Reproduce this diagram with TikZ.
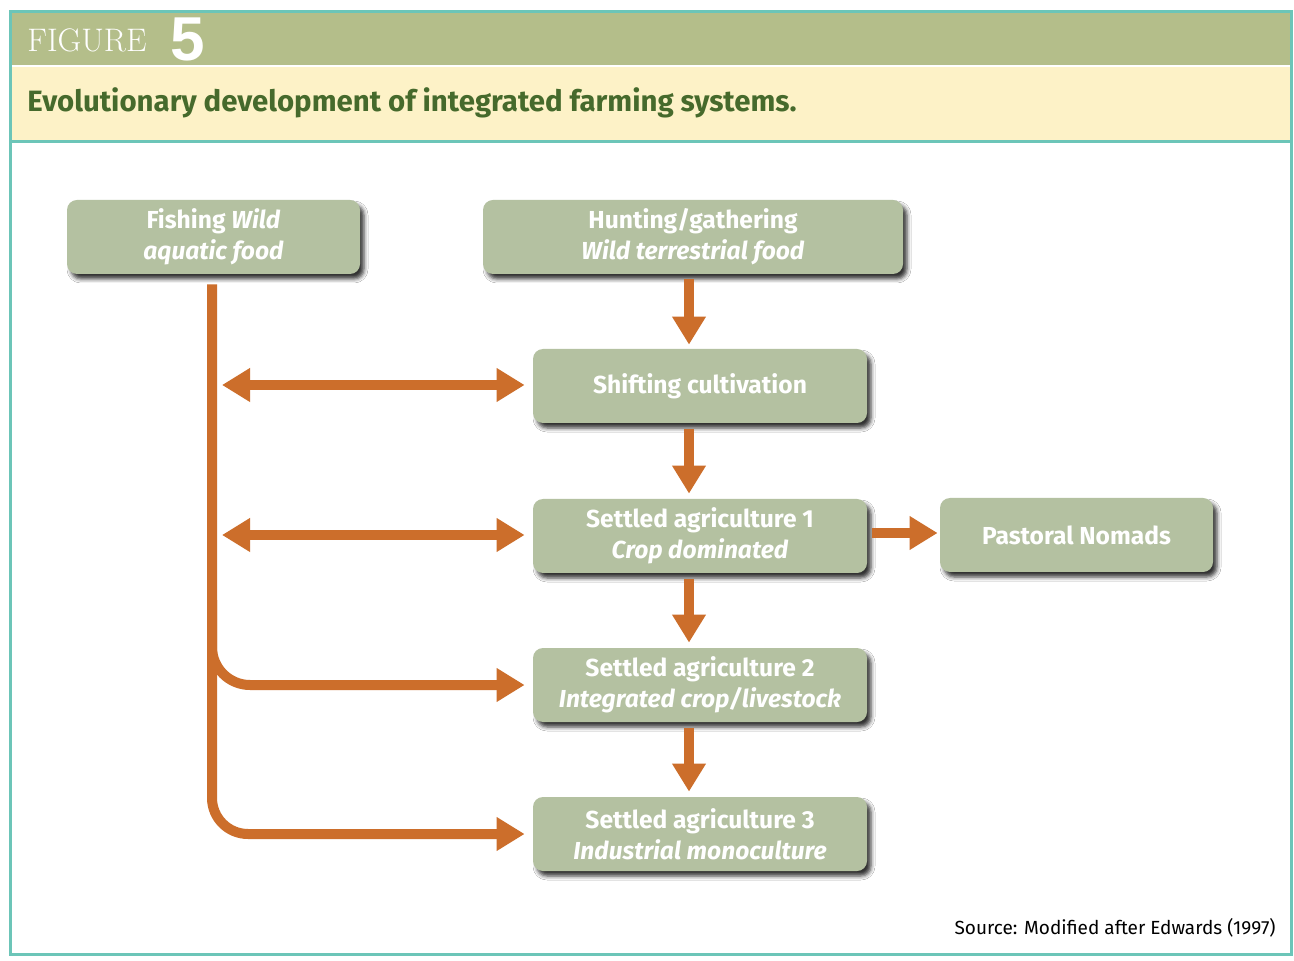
\documentclass[tikz,border=0pt]{standalone}
\usepackage{fontspec}
\newfontfamily\sans{Fira Sans}
\newfontfamily\numfont{Liberation Sans}
\usetikzlibrary{arrows.meta,shadows.blur,calc}
\definecolor{frameteal}{HTML}{6CC5B8}
\definecolor{hdrgreen}{HTML}{B4BE8A}
\definecolor{hdryellow}{HTML}{FDF2C7}
\definecolor{titlegreen}{HTML}{466A2C}
\definecolor{boxgreen}{HTML}{B4C1A1}
\definecolor{orng}{HTML}{CC6E2B}
\tikzset{
  box/.style={rounded corners=5pt, fill=boxgreen, text=white, align=center,
    font=\sans\bfseries\fontsize{12.3}{15.5}\selectfont, minimum height=37pt, inner sep=0pt,
    blur shadow={shadow xshift=2pt,shadow yshift=-2.5pt,shadow blur radius=2pt,shadow opacity=80}},
  arr/.style={draw=orng, line width=5pt, -{Triangle[length=14pt,width=16pt]}},
  dbl/.style={draw=orng, line width=5pt, {Triangle[length=14pt,width=16pt]}-{Triangle[length=14pt,width=16pt]}}
}
\begin{document}
\begin{tikzpicture}[x=0.5pt,y=-0.5pt]
\useasboundingbox (0,0) rectangle (1294,961);
\fill[white] (0,0) rectangle (1294,961);
\fill[hdrgreen] (10.5,11.5) rectangle (1291.5,65);
\fill[white] (10.5,65) rectangle (1291.5,67);
\fill[hdryellow] (10.5,67) rectangle (1291.5,141);
\draw[frameteal,line width=1.5pt] (10.5,11.5) rectangle (1291.5,954.5);
\draw[frameteal,line width=1.5pt] (10.5,142) -- (1291.5,142);
\node[anchor=base west,text=white,inner sep=0pt,font=\fontsize{16.3}{16}\selectfont] (figlbl) at (27,52) {FIGURE};
\node[anchor=base,text=white,inner sep=0pt,font=\numfont\bfseries\fontsize{31}{31}\selectfont] (fignum) at (188,61) {5};
\node[anchor=base west,text=titlegreen,inner sep=0pt,font=\sans\bfseries\fontsize{14.7}{15}\selectfont] (title) at (27,112) {Evolutionary development of integrated farming systems.};

\node[box, minimum width=146.5pt] (fish) at (213.5,237) {Fishing \textit{Wild}\\\textit{aquatic food}};
\node[box, minimum width=210pt] (hunt) at (693,237) {Hunting/gathering\\\textit{Wild terrestrial food}};
\node[box, minimum width=167pt] (shift) at (700,386) {Shifting cultivation};
\node[box, minimum width=167pt] (s1) at (700,536) {Settled agriculture 1\\\textit{Crop dominated}};
\node[box, minimum width=136.5pt] (past) at (1076.5,535) {Pastoral Nomads};
\node[box, minimum width=167pt] (s2) at (700,685) {Settled agriculture 2\\\textit{Integrated crop/livestock}};
\node[box, minimum width=167pt] (s3) at (700,834) {Settled agriculture 3\\\textit{Industrial monoculture}};

\draw[arr] ([xshift=-2pt,yshift=-2.5pt]hunt.south) -- ([xshift=-5.5pt,yshift=2pt]shift.north);
\draw[arr] ([xshift=-5.5pt,yshift=-3pt]shift.south) -- ([xshift=-5.5pt,yshift=2.5pt]s1.north);
\draw[arr] ([xshift=-5.5pt,yshift=-3pt]s1.south) -- ([xshift=-5.5pt,yshift=2.5pt]s2.north);
\draw[arr] ([xshift=-5.5pt,yshift=-3pt]s2.south) -- ([xshift=-5.5pt,yshift=2.5pt]s3.north);
\draw[arr] ([xshift=2.5pt,yshift=1.5pt]s1.east) -- ([xshift=-1pt,yshift=1pt]past.west);

\coordinate (branch) at (212,600);
\draw[arr, rounded corners=18pt] ([xshift=-0.75pt,yshift=-5pt]fish.south) |- ([xshift=-4pt]s3.west);
\draw[arr, rounded corners=19pt] (branch) |- ([xshift=-4pt]s2.west);
\draw[dbl] ($(branch |- shift.west)+(10,-1)$) -- ([xshift=-4pt,yshift=0.5pt]shift.west);
\draw[dbl] ($(branch |- s1.west)+(10,-1)$) -- ([xshift=-4pt,yshift=0.5pt]s1.west);

\node[anchor=base east,inner sep=0pt,font=\sans\fontsize{9.5}{10}\selectfont] (src) at (1276,934) {Source: Modified after Edwards (1997)};
\end{tikzpicture}
\end{document}
